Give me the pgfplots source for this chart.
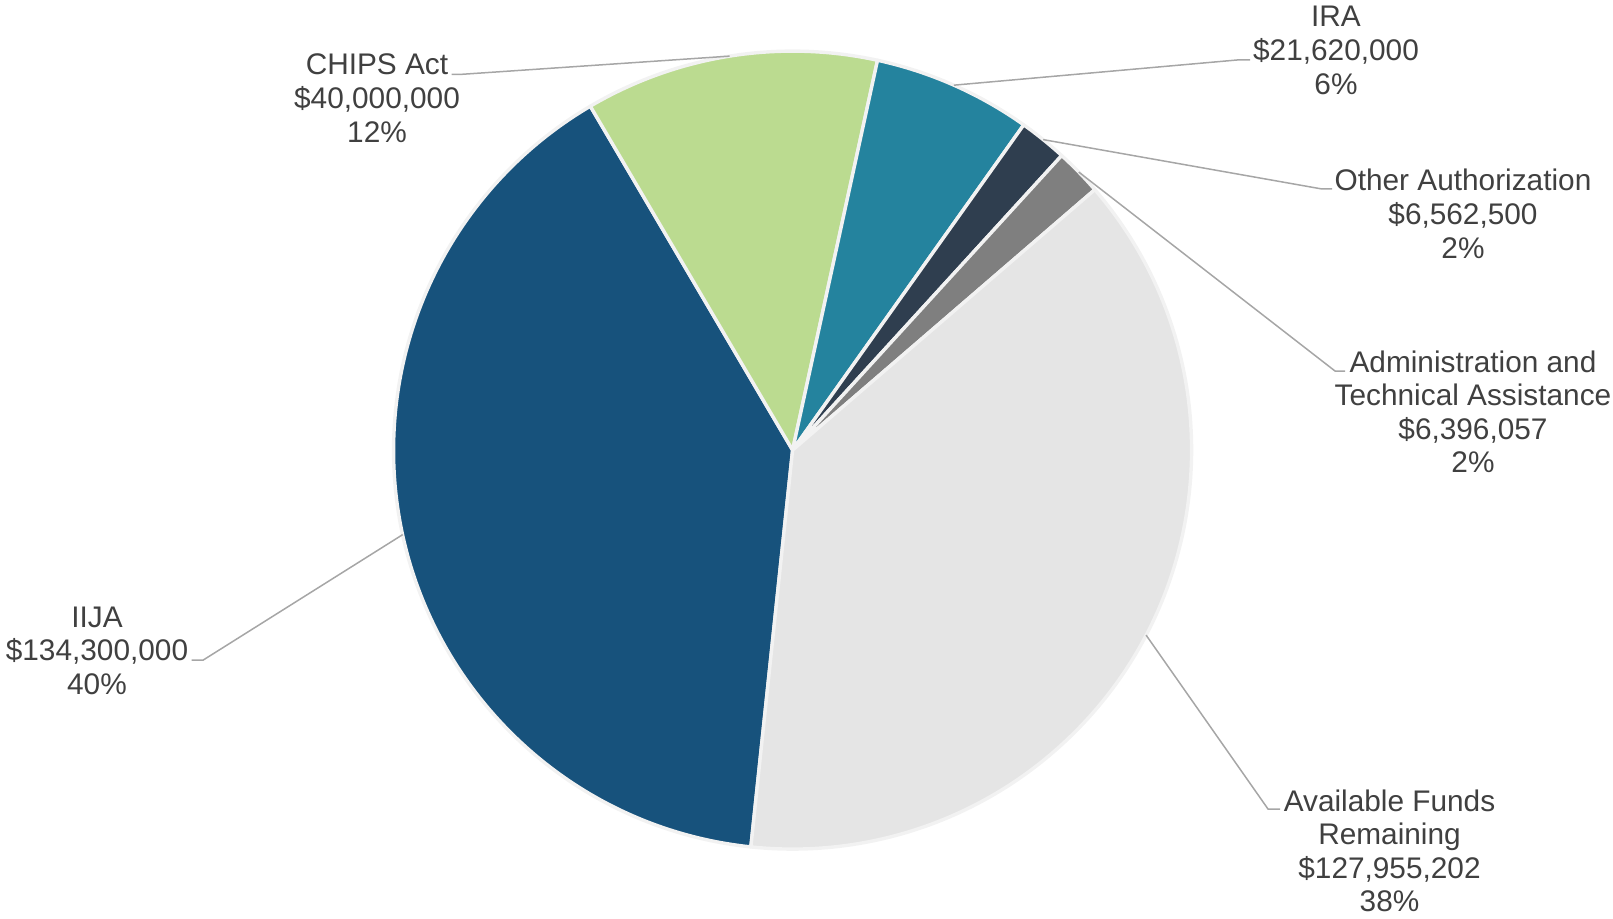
\documentclass[border=0pt]{standalone}
\usepackage{pgfplots}
\pgfplotsset{compat=1.18}
\usepackage{pgfplotstable}
\usepackage{fontspec}
\setmainfont{Liberation Sans}
\definecolor{s0}{HTML}{17527C}
\definecolor{s1}{HTML}{BBDB90}
\definecolor{s2}{HTML}{24839E}
\definecolor{s3}{HTML}{2F3E4F}
\definecolor{s4}{HTML}{7F7F7F}
\definecolor{s5}{HTML}{E5E5E5}
\definecolor{sborder}{HTML}{F2F2F2}
\definecolor{leadergray}{HTML}{A6A6A6}
\definecolor{labelgray}{HTML}{404040}
\tikzset{lbl/.style={anchor=base, inner sep=0pt, text=labelgray,
    font=\fontsize{14.9}{16.8}\selectfont}}
% values in millions of dollars
\pgfplotstableread[col sep=comma]{
label,value
IIJA,134.3
CHIPS Act,40.0
IRA,21.62
Other Authorization,6.5625
Administration and Technical Assistance,6.396057
Available Funds Remaining,127.955202
}\piedata
\newcommand\leader[5]{%
  \edef\temp{\noexpand\draw[leadergray, line width=0.75pt]
    ([shift={(\csname mA#1\endcsname:199.5pt)}]axis cs:792.6,467.9)
    -- (axis cs:#2,#3) -- (axis cs:#4,#3);}\temp}
\begin{document}
\begin{tikzpicture}
\useasboundingbox (0,0) rectangle (806.5pt,459pt);
\pgfplotstablegetrowsof{\piedata}
\pgfmathtruncatemacro\lastrow{\pgfplotsretval-1}
\gdef\pietotal{0}
\foreach \i in {0,...,\lastrow}{%
  \pgfplotstablegetelem{\i}{value}\of\piedata
  \pgfmathsetmacro\tmp{\pietotal+\pgfplotsretval}%
  \xdef\pietotal{\tmp}}
\gdef\curang{-96}
\foreach \i in {0,...,\lastrow}{%
  \pgfplotstablegetelem{\i}{value}\of\piedata
  \pgfmathsetmacro\endang{\curang-\pgfplotsretval/\pietotal*360}%
  \pgfmathsetmacro\midang{(\curang+\endang)/2}%
  \expandafter\xdef\csname sA\i\endcsname{\curang}%
  \expandafter\xdef\csname eA\i\endcsname{\endang}%
  \expandafter\xdef\csname mA\i\endcsname{\midang}%
  \xdef\curang{\endang}}
\begin{axis}[
  at={(0,0)}, anchor=south west,
  x=0.5pt, y=0.5pt,
  xmin=0, xmax=1613, ymin=0, ymax=918,
  hide axis, clip=false,
]
\pgfplotsinvokeforeach{0,...,5}{%
  \edef\temp{\noexpand\filldraw[fill=s#1, draw=sborder, line width=1.7pt, line join=round]
    (axis cs:792.6,467.9) -- ([shift={(\csname sA#1\endcsname:199.5pt)}]axis cs:792.6,467.9)
    arc[start angle=\csname sA#1\endcsname, end angle=\csname eA#1\endcsname, radius=199.5pt] -- cycle;}%
  \temp}
\leader{0}{203.3}{258}{191.7}{}
\leader{1}{462}{843.7}{451.7}{}
\leader{2}{1237}{858}{1250}{}
\leader{3}{1322}{729}{1332}{}
\leader{4}{1335}{547}{1345}{}
\leader{5}{1268}{109}{1280}{}
\node[lbl] at (axis cs:97,291) {\begin{tabular}[t]{@{}c@{}}IIJA\\\$134,300,000\\40\%\end{tabular}};
\node[lbl] at (axis cs:377,843) {\begin{tabular}[t]{@{}c@{}}CHIPS Act\\\$40,000,000\\12\%\end{tabular}};
\node[lbl] at (axis cs:1336,891) {\begin{tabular}[t]{@{}c@{}}IRA\\\$21,620,000\\6\%\end{tabular}};
\node[lbl] at (axis cs:1463,727) {\begin{tabular}[t]{@{}c@{}}Other Authorization\\\$6,562,500\\2\%\end{tabular}};
\node[lbl] at (axis cs:1473,546) {\begin{tabular}[t]{@{}c@{}}Administration and\\Technical Assistance\\\$6,396,057\\2\%\end{tabular}};
\node[lbl] at (axis cs:1389.5,107) {\begin{tabular}[t]{@{}c@{}}Available Funds\\Remaining\\\$127,955,202\\38\%\end{tabular}};
\end{axis}
\end{tikzpicture}
\end{document}
